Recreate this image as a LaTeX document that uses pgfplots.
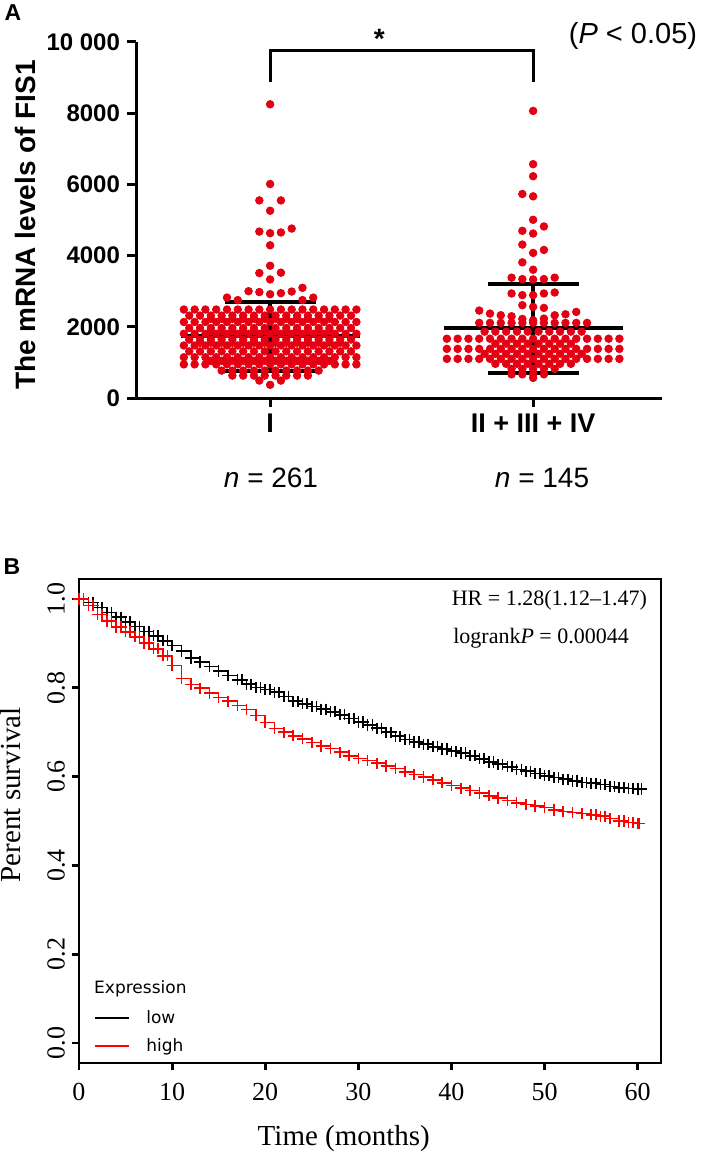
\documentclass[border=0pt]{standalone}
\usepackage{fontspec}
\setmainfont{Liberation Sans}
\newfontfamily\rmtimes{Liberation Serif}
\newfontfamily\dvsans{DejaVu Sans}
\usepackage{pgfplots}
\pgfplotsset{compat=1.18}
\definecolor{dotred}{RGB}{228,0,18}
\definecolor{kmred}{RGB}{255,0,0}

\begin{document}
\begin{tikzpicture}
\useasboundingbox (0,0) rectangle (354.5pt,-577.5pt);

% ---------- A: FIS1 mRNA by stage, mean +/- SD
\begin{axis}[
    at={(68pt,-199pt)}, anchor=south west,
    scale only axis, width=263pt, height=178pt,
    xmin=-0.51, xmax=1.49, ymin=0, ymax=10000,
    axis x line*=bottom, axis y line*=left,
    axis line style={line width=1.5pt},
    tick align=outside, major tick length=4.5pt,
    tick style={black, line width=1.5pt},
    xtick={0,1}, xticklabels={I, II + III + IV},
    ytick={0,2000,4000,6000,8000,10000},
    yticklabels={0,2000,4000,6000,8000,10 000},
    scaled y ticks=false,
    x tick label style={font=\fontsize{13.5}{15}\selectfont\bfseries},
    y tick label style={font=\fontsize{12}{14}\selectfont\bfseries},
    ylabel={The mRNA levels of FIS1},
    ylabel style={font=\fontsize{14}{16}\selectfont\bfseries,
        at={(axis description cs:-0.211,0.486)}, anchor=center},
    clip=false,
]
% stage I, n = 261
\addplot[dotred, only marks, mark=*, mark size=1.9pt, mark options={draw=dotred, fill=dotred}] coordinates {
 (0,8250) (0,6010) (-0.041,5550) (0.041,5550) (0,5260)
 (-0.041,4675) (0,4630) (0.041,4650) (0.082,4760) (0,4290) (0,3715)
 (-0.041,3510) (0.041,3520) (0,3330)
 (-0.082,3000) (-0.041,2975) (0,2915) (0.041,2945) (0.082,2990) (0.123,3095)
 (-0.164,2820) (0.164,2820) (-0.123,2750) (0.123,2750)
 (-0.328,2485) (-0.287,2485) (-0.246,2485) (-0.205,2485) (-0.164,2485) (-0.123,2485) (-0.082,2485) (-0.041,2485) (0,2485)
 (0.041,2485) (0.082,2485) (0.123,2485) (0.164,2485) (0.205,2485) (0.246,2485) (0.287,2485) (0.328,2485)
 (-0.3075,2315) (-0.2665,2315) (-0.2255,2315) (-0.1845,2315) (-0.1435,2315) (-0.1025,2315) (-0.0615,2315) (-0.0205,2315)
 (0.0205,2315) (0.0615,2315) (0.1025,2315) (0.1435,2315) (0.1845,2315) (0.2255,2315) (0.2665,2315) (0.3075,2315)
 (-0.2255,2225) (-0.1845,2225) (-0.1435,2225) (-0.1025,2225) (-0.0615,2225) (-0.0205,2225)
 (0.0205,2225) (0.0615,2225) (0.1025,2225) (0.1435,2225) (0.1845,2225) (0.2255,2225)
 (-0.328,2135) (-0.287,2135) (-0.246,2135) (-0.205,2135) (-0.164,2135) (-0.123,2135) (-0.082,2135) (-0.041,2135) (0,2135)
 (0.041,2135) (0.082,2135) (0.123,2135) (0.164,2135) (0.205,2135) (0.246,2135) (0.287,2135) (0.328,2135)
 (-0.3075,1965) (-0.2665,1965) (-0.2255,1965) (-0.1845,1965) (-0.1435,1965) (-0.1025,1965) (-0.0615,1965) (-0.0205,1965)
 (0.0205,1965) (0.0615,1965) (0.1025,1965) (0.1435,1965) (0.1845,1965) (0.2255,1965) (0.2665,1965) (0.3075,1965)
 (-0.2255,1885) (-0.1845,1885) (-0.1435,1885) (-0.1025,1885) (-0.0615,1885) (-0.0205,1885)
 (0.0205,1885) (0.0615,1885) (0.1025,1885) (0.1435,1885) (0.1845,1885) (0.2255,1885)
 (-0.328,1805) (-0.287,1805) (-0.246,1805) (-0.205,1805) (-0.164,1805) (-0.123,1805) (-0.082,1805) (-0.041,1805) (0,1805)
 (0.041,1805) (0.082,1805) (0.123,1805) (0.164,1805) (0.205,1805) (0.246,1805) (0.287,1805) (0.328,1805)
 (-0.3075,1640) (-0.2665,1640) (-0.2255,1640) (-0.1845,1640) (-0.1435,1640) (-0.1025,1640) (-0.0615,1640) (-0.0205,1640)
 (0.0205,1640) (0.0615,1640) (0.1025,1640) (0.1435,1640) (0.1845,1640) (0.2255,1640) (0.2665,1640) (0.3075,1640)
 (-0.2665,1555) (-0.2255,1555) (-0.1845,1555) (-0.1435,1555) (-0.1025,1555) (-0.0615,1555) (-0.0205,1555)
 (0.0205,1555) (0.0615,1555) (0.1025,1555) (0.1435,1555) (0.1845,1555) (0.2255,1555) (0.2665,1555)
 (-0.328,1475) (-0.287,1475) (-0.246,1475) (-0.205,1475) (-0.164,1475) (-0.123,1475) (-0.082,1475) (-0.041,1475) (0,1475)
 (0.041,1475) (0.082,1475) (0.123,1475) (0.164,1475) (0.205,1475) (0.246,1475) (0.287,1475) (0.328,1475)
 (-0.3075,1310) (-0.2665,1310) (-0.2255,1310) (-0.1845,1310) (-0.1435,1310) (-0.1025,1310) (-0.0615,1310) (-0.0205,1310)
 (0.0205,1310) (0.0615,1310) (0.1025,1310) (0.1435,1310) (0.1845,1310) (0.2255,1310) (0.2665,1310) (0.3075,1310)
 (-0.328,1145) (-0.287,1145) (-0.246,1145) (-0.205,1145) (-0.164,1145) (-0.123,1145) (-0.082,1145) (-0.041,1145) (0,1145)
 (0.041,1145) (0.082,1145) (0.123,1145) (0.164,1145) (0.205,1145) (0.246,1145) (0.287,1145) (0.328,1145)
 (-0.2255,1045) (-0.1845,1045) (-0.1435,1045) (-0.1025,1045) (-0.0615,1045) (-0.0205,1045)
 (0.0205,1045) (0.0615,1045) (0.1025,1045) (0.1435,1045) (0.1845,1045) (0.2255,1045)
 (-0.328,945) (-0.287,945) (-0.246,945) (-0.205,945) (-0.164,945) (-0.123,945) (-0.082,945) (-0.041,945) (0,945)
 (0.041,945) (0.082,945) (0.123,945) (0.164,945) (0.205,945) (0.246,945) (0.287,945) (0.328,945)
 (-0.1845,770) (-0.1435,770) (-0.1025,770) (-0.0615,770) (-0.0205,770) (0.0205,770) (0.0615,770) (0.1025,770) (0.1435,770) (0.1845,770)
 (-0.1435,630) (-0.1025,630) (-0.0615,630) (-0.0205,630) (0.0205,630) (0.0615,630) (0.1025,630) (0.1435,630)
 (-0.041,490) (0,370) (0.041,490)
};
% stages II + III + IV, n = 145
\addplot[dotred, only marks, mark=*, mark size=1.9pt, mark options={draw=dotred, fill=dotred}] coordinates {
 (1,8064) (1,6568) (1,6229) (0.959,5731) (1,5665)
 (1,5006) (0.959,4696) (1,4620) (1.041,4818)
 (0.959,4310) (1.041,4159) (1,4075) (0.959,3811) (1,3604)
 (0.918,3380) (0.959,3340) (1,3330) (1.041,3340) (1.082,3380)
 (0.918,2936) (0.959,2890) (1,2890) (1.041,2936) (1.082,2964)
 (0.959,2607) (1,2560) (1.041,2531)
 (0.795,2456) (0.836,2371) (0.877,2324) (0.918,2296) (0.959,2221) (1,2183) (1.041,2230) (1.082,2324) (1.123,2352) (1.164,2418)
 (0.795,2110) (0.836,2110) (0.877,2110) (0.918,2110) (0.959,2110) (1,2110) (1.041,2110) (1.082,2110) (1.123,2110) (1.164,2110) (1.205,2110)
 (0.8155,1865) (0.8565,1865) (0.8975,1865) (0.9385,1865) (0.9795,1865) (1.0205,1865) (1.0615,1865) (1.1025,1865) (1.1435,1865) (1.1845,1865)
 (0.672,1665) (0.713,1665) (0.754,1665) (0.795,1665) (0.836,1665) (0.877,1665) (0.918,1665) (0.959,1665) (1,1665)
 (1.041,1665) (1.082,1665) (1.123,1665) (1.164,1665) (1.205,1665) (1.246,1665) (1.287,1665) (1.328,1665)
 (0.8565,1525) (0.8975,1525) (0.9385,1525) (0.9795,1525) (1.0205,1525) (1.0615,1525) (1.1025,1525) (1.1435,1525)
 (0.672,1380) (0.713,1380) (0.754,1380) (0.795,1380) (0.836,1380) (0.877,1380) (0.918,1380) (0.959,1380) (1,1380)
 (1.041,1380) (1.082,1380) (1.123,1380) (1.164,1380) (1.205,1380) (1.246,1380) (1.287,1380) (1.328,1380)
 (0.8155,1240) (0.8565,1240) (0.8975,1240) (0.9385,1240) (0.9795,1240) (1.0205,1240) (1.0615,1240) (1.1025,1240) (1.1435,1240) (1.1845,1240)
 (0.672,1100) (0.713,1100) (0.754,1100) (0.795,1100) (0.836,1100) (0.877,1100) (0.918,1100) (0.959,1100) (1,1100)
 (1.041,1100) (1.082,1100) (1.123,1100) (1.164,1100) (1.205,1100) (1.246,1100) (1.287,1100) (1.328,1100)
 (0.8565,960) (0.8975,960) (0.9385,960) (0.9795,960) (1.0205,960) (1.0615,960) (1.1025,960) (1.1435,960)
 (0.918,820) (0.959,820) (1,820) (1.041,820) (1.082,820)
 (0.918,665) (0.959,665) (1,665) (1.041,665)
 (1,565)
};
% mean and SD bars
\addplot[black, line width=2pt] coordinates {(-0.34,1731) (0.34,1731)};
\addplot[black, line width=2pt] coordinates {(-0.173,2690) (0.173,2690)};
\addplot[black, line width=2pt] coordinates {(-0.173,770) (0.173,770)};
\addplot[black, line width=2pt] coordinates {(0,770) (0,2690)};
\addplot[black, line width=2pt] coordinates {(0.66,1955) (1.34,1955)};
\addplot[black, line width=2pt] coordinates {(0.827,3215) (1.173,3215)};
\addplot[black, line width=2pt] coordinates {(0.827,695) (1.173,695)};
\addplot[black, line width=2pt] coordinates {(1,695) (1,3215)};
% significance bracket
\addplot[black, line width=1.5pt] coordinates {(0,8870) (0,9765) (1,9765) (1,8870)};
\node[anchor=base, font=\fontsize{14}{16}\selectfont\bfseries] at (axis cs:0.415,9830) {*};
\end{axis}

\node[font=\fontsize{11.5}{13}\selectfont\bfseries] at (6.5pt,-6.5pt) {A};
\node[font=\fontsize{14.5}{16}\selectfont] at (316.5pt,-18pt) {(\textit{P} < 0.05)};
\node[font=\fontsize{14}{16}\selectfont] at (135.5pt,-239pt) {\textit{n} = 261};
\node[font=\fontsize{14}{16}\selectfont] at (271pt,-239pt) {\textit{n} = 145};

% ---------- B: Kaplan-Meier, FIS1 low vs high
\begin{axis}[
    at={(39.5pt,-531.5pt)}, anchor=south west,
    scale only axis, width=291pt, height=242pt,
    xmin=0, xmax=62.5, ymin=-0.045, ymax=1.045,
    axis line style={line width=1.4pt},
    tick pos=left, tick align=outside, major tick length=3.5pt,
    tick style={black, line width=1.4pt},
    xtick={0,10,20,30,40,50,60}, xticklabels={0,10,20,30,40,50,60},
    ytick={0,0.2,0.4,0.6,0.8,1}, yticklabels={0.0,0.2,0.4,0.6,0.8,1.0},
    ticklabel style={font=\rmtimes\fontsize{13}{15}\selectfont},
    xticklabel shift=3pt,
    yticklabel style={rotate=90, anchor=south},
    xlabel={Time (months)},
    xlabel style={font=\rmtimes\fontsize{14.5}{16}\selectfont,
        at={(axis description cs:0.455,-0.157)}, anchor=center},
    ylabel={Perent survival},
    ylabel style={font=\rmtimes\fontsize{14.5}{16}\selectfont,
        at={(axis description cs:-0.117,0.554)}, anchor=center},
    legend style={at={(axis description cs:0.026,0.118)}, anchor=north west,
        draw=none, fill=none, inner sep=0pt, row sep=2pt,
        font=\dvsans\fontsize{8.5}{10}\selectfont,
        /tikz/every odd column/.append style={column sep=6pt}},
    legend cell align=left,
    legend image code/.code={\draw[#1, line width=0.9pt] (0pt,0pt) -- (17pt,0pt);},
    clip=false,
]
\addplot[black, line width=0.8pt, const plot, mark=+, mark size=2.8pt, mark options={line width=0.8pt}] coordinates {
 (0,1.000) (1,0.992) (2,0.981) (3,0.970) (4,0.959) (5,0.948) (6,0.938) (7,0.927) (8,0.917) (9,0.906)
 (10,0.895) (11,0.883) (12,0.867) (13,0.858) (14,0.848) (15,0.838) (16,0.828) (17,0.818) (18,0.808) (19,0.801)
 (20,0.796) (21,0.790) (22,0.780) (23,0.770) (24,0.764) (25,0.758) (26,0.752) (27,0.746) (28,0.739) (29,0.731)
 (30,0.723) (31,0.716) (32,0.709) (33,0.700) (34,0.691) (35,0.684) (36,0.678) (37,0.673) (38,0.667) (39,0.662)
 (40,0.657) (41,0.653) (42,0.647) (43,0.640) (44,0.633) (45,0.628) (46,0.622) (47,0.616) (48,0.612) (49,0.607)
 (50,0.602) (51,0.598) (52,0.594) (53,0.590) (54,0.587) (55,0.585) (56,0.582) (57,0.578) (58,0.575) (59,0.573)
 (60,0.572) (60.4,0.572)
};
\addlegendentry{low}
\addplot[kmred, line width=0.8pt, const plot, mark=+, mark size=2.8pt, mark options={line width=0.8pt}] coordinates {
 (0,1.000) (1,0.985) (2,0.965) (3,0.950) (4,0.937) (5,0.926) (6,0.915) (7,0.901) (8,0.888) (9,0.872)
 (10,0.850) (11,0.821) (12,0.807) (13,0.799) (14,0.788) (15,0.778) (16,0.770) (17,0.760) (18,0.751) (19,0.738)
 (20,0.722) (21,0.708) (22,0.700) (23,0.692) (24,0.685) (25,0.677) (26,0.669) (27,0.663) (28,0.655) (29,0.647)
 (30,0.641) (31,0.636) (32,0.630) (33,0.624) (34,0.618) (35,0.611) (36,0.605) (37,0.599) (38,0.593) (39,0.586)
 (40,0.580) (41,0.574) (42,0.569) (43,0.563) (44,0.557) (45,0.552) (46,0.546) (47,0.541) (48,0.537) (49,0.534)
 (50,0.530) (51,0.525) (52,0.521) (53,0.519) (54,0.517) (55,0.514) (56,0.511) (57,0.506) (58,0.500) (59,0.497)
 (60,0.494) (60.2,0.494)
};
\addlegendentry{high}
% extra censoring marks
\addplot[forget plot, only marks, black, mark=+, mark size=2.8pt, mark options={line width=0.8pt}] coordinates {
 (0.5,1.000) (1.5,0.992) (2.5,0.981) (3.5,0.970) (4.5,0.959) (5.5,0.948) (6.5,0.938) (7.5,0.927) (8.5,0.917) (9.5,0.906)
 (17.5,0.818) (18.5,0.808) (19.5,0.801) (20.5,0.796) (21.5,0.790) (22.5,0.780) (23.5,0.770) (24.5,0.764) (25.5,0.758)
 (26.5,0.752) (27.5,0.746) (28.5,0.739) (29.5,0.731) (30.5,0.723) (31.5,0.716) (32.5,0.709) (33.5,0.700) (34.5,0.691)
 (35.5,0.684) (36.5,0.678) (37.5,0.673) (38.5,0.667) (39.5,0.662) (40.5,0.657) (41.5,0.653) (42.5,0.647) (43.5,0.640)
 (44.5,0.633) (45.5,0.628) (46.5,0.622) (47.5,0.616) (48.5,0.612) (49.5,0.607) (50.5,0.602) (51.5,0.598) (52.5,0.594)
 (53.5,0.590) (54.5,0.587) (55.5,0.585) (56.5,0.582) (57.5,0.578) (58.5,0.575) (59.5,0.573)
};
\addplot[forget plot, only marks, kmred, mark=+, mark size=2.8pt, mark options={line width=0.8pt}] coordinates {
 (0.5,1.000) (1.5,0.985) (2.5,0.965) (3.5,0.950) (4.5,0.937) (5.5,0.926) (6.5,0.915) (7.5,0.901) (8.5,0.888) (9.5,0.872)
 (55.5,0.514) (56.5,0.511) (58.5,0.500) (59.5,0.497)
};
\node[anchor=east, font=\rmtimes\fontsize{11}{13}\selectfont] at (rel axis cs:0.988,0.957) {HR = 1.28(1.12–1.47)};
\node[anchor=east, font=\rmtimes\fontsize{11}{13}\selectfont] at (rel axis cs:0.957,0.878) {logrank\textit{P} = 0.00044};
\node[anchor=west, font=\dvsans\fontsize{8.5}{10}\selectfont] at (rel axis cs:0.014,0.153) {Expression};
\end{axis}

\node[font=\fontsize{11.5}{13}\selectfont\bfseries] at (6pt,-283.5pt) {B};
\end{tikzpicture}
\end{document}
